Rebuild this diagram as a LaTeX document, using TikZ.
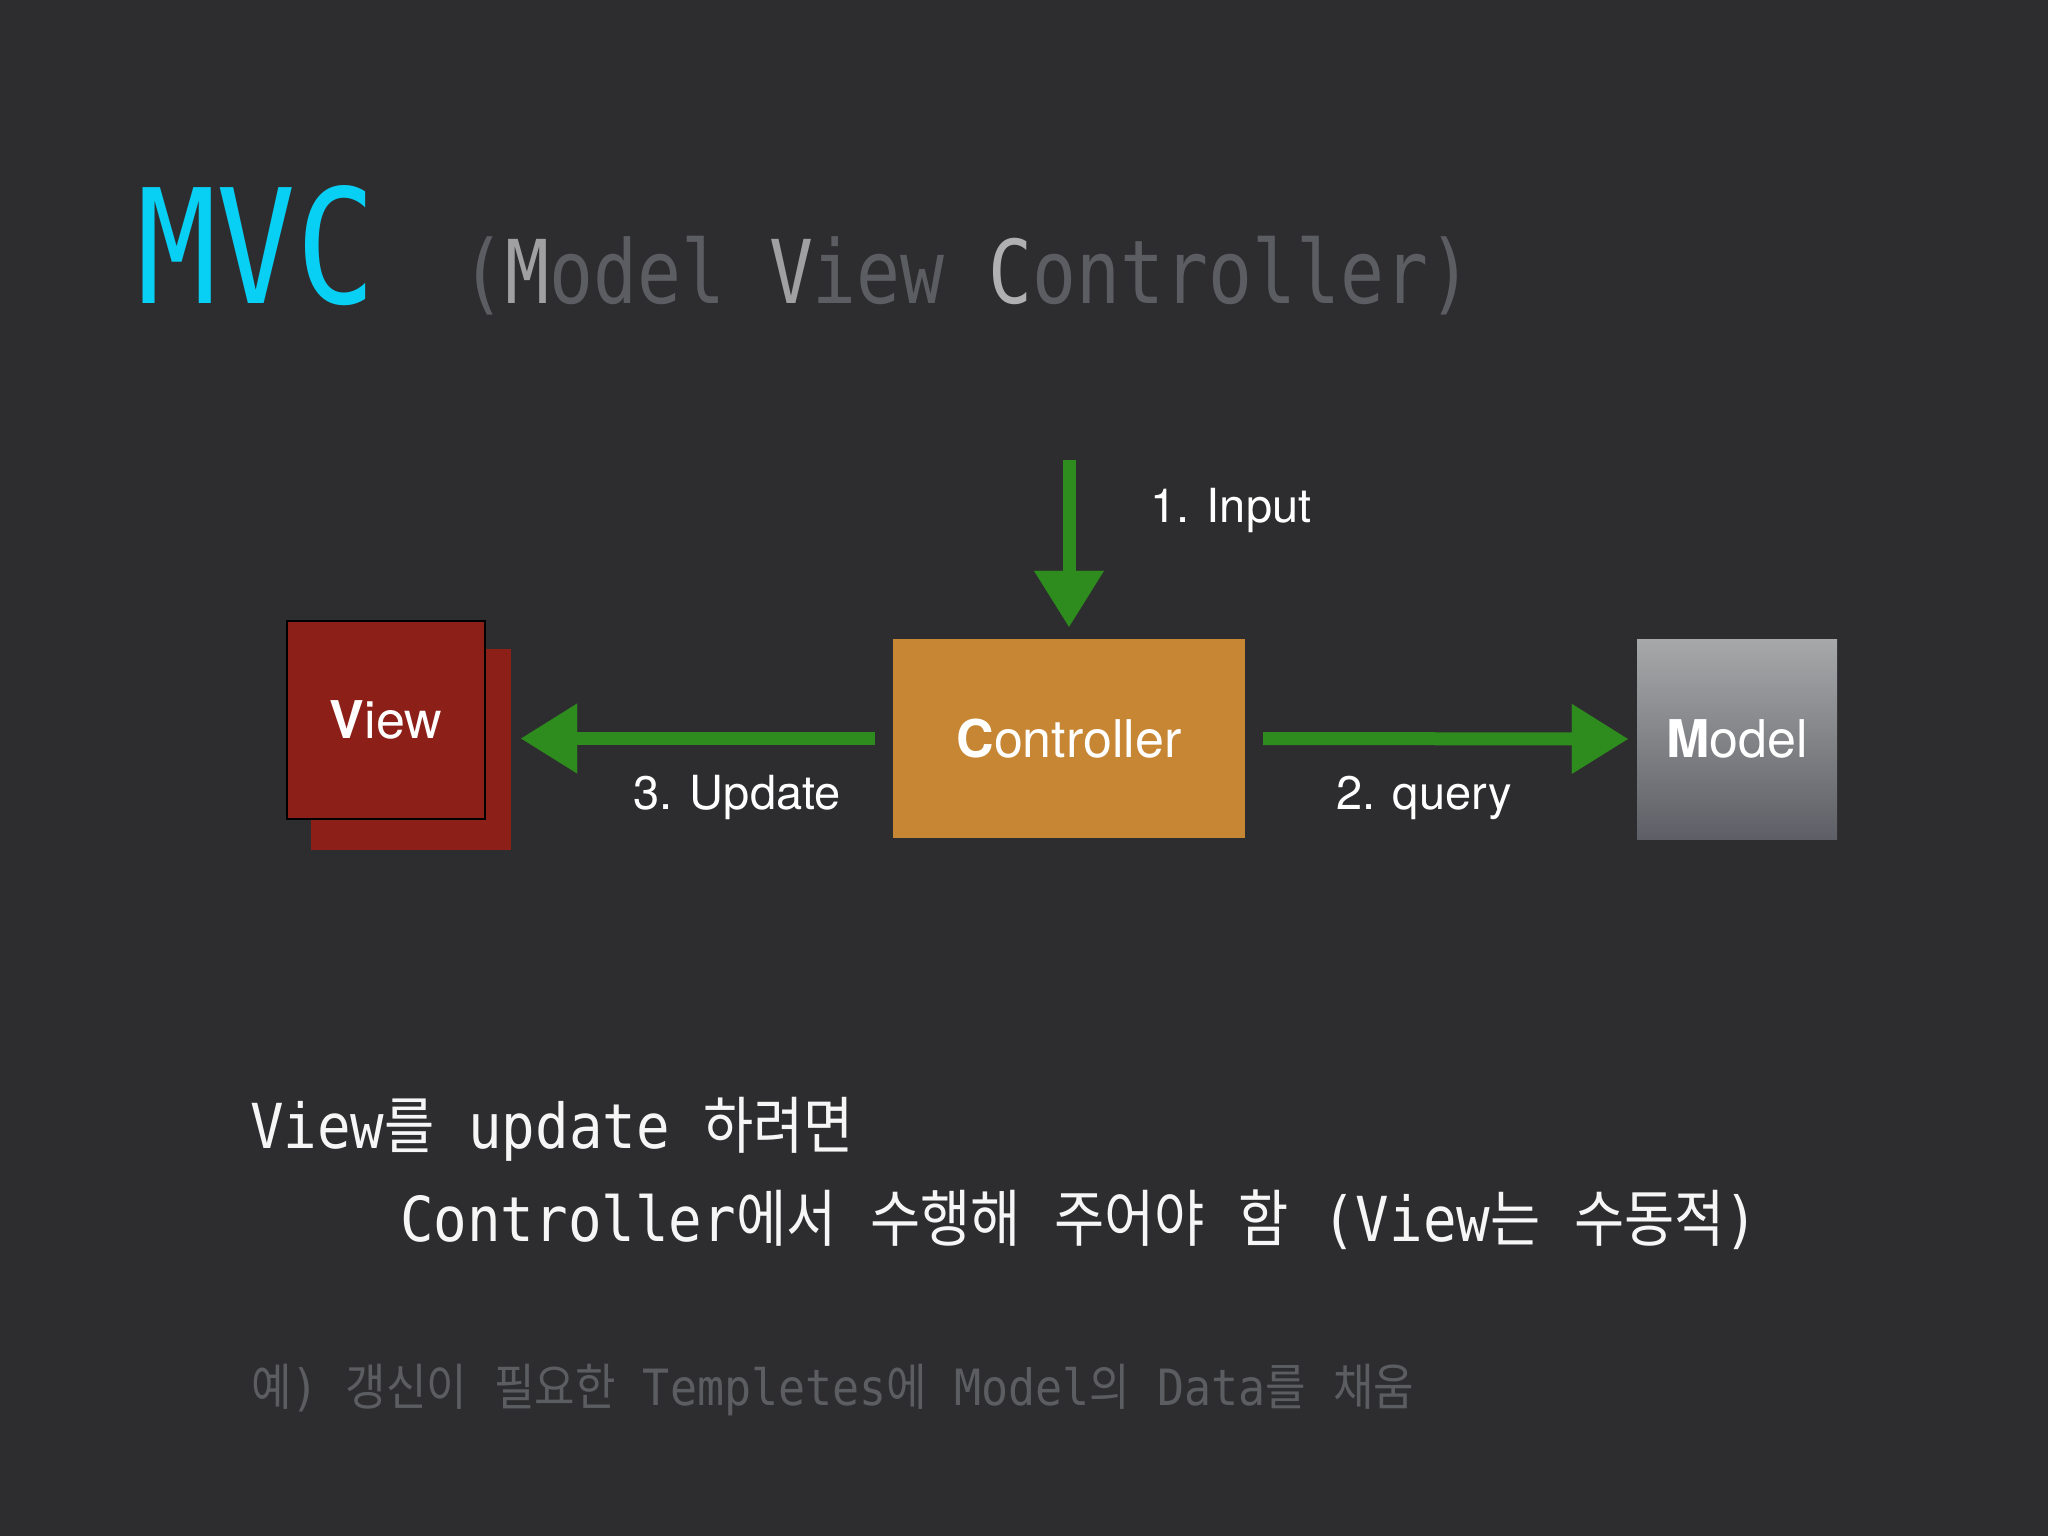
\documentclass[tikz,border=0pt]{standalone}
\usepackage{fontspec}
\usetikzlibrary{arrows.meta,calc}
\newfontfamily\monof[FakeStretch=0.83]{DejaVu Sans Mono}
\newfontfamily\monob[FakeStretch=0.90]{DejaVu Sans Mono}
\newfontfamily\krf[FakeStretch=0.88]{Noto Sans CJK KR}
\newfontfamily\helv{TeX Gyre Heros}
\newcommand\KR[1]{{\krf #1}}
\definecolor{bgc}{RGB}{45,45,47}
\definecolor{mvccyan}{RGB}{8,208,245}
\definecolor{subdark}{RGB}{92,93,98}
\definecolor{sublight}{RGB}{160,160,162}
\definecolor{sublightest}{RGB}{176,176,178}
\definecolor{viewred}{RGB}{140,32,24}
\definecolor{ctrlorange}{RGB}{198,134,52}
\definecolor{modeltop}{RGB}{166,168,169}
\definecolor{modelbot}{RGB}{94,95,102}
\definecolor{agreen}{RGB}{46,140,30}
\definecolor{notegray}{RGB}{92,93,97}
\definecolor{txtwhite}{RGB}{246,246,246}
\begin{document}
\begin{tikzpicture}[x=1pt,y=-1pt,
  boxlabel/.style={text=white,font=\helv\fontsize{52}{60}\selectfont},
  steplabel/.style={anchor=base west,inner sep=0,text=white,font=\helv\fontsize{47}{56}\selectfont},
  noteline/.style={anchor=base west,inner sep=0,text=txtwhite,font=\monob\fontsize{62}{70}\selectfont},
  garrow/.style={draw=agreen,line width=13pt,-{Triangle[length=56pt,width=70pt,line width=0.1pt]}}]
\fill[bgc] (0,0) rectangle (2048,1536);
\useasboundingbox (0,0) rectangle (2048,1536);

% title
\node[anchor=base west,inner sep=0,text=mvccyan,font=\monof\fontsize{159}{170}\selectfont] (title) at (137,303) {MVC};
\node[anchor=base west,inner sep=0,text=subdark,font=\monof\fontsize{88}{100}\selectfont] (subtitle) at (461,303)
  {(\textcolor{sublight}{M}odel \textcolor{sublight}{V}iew \textcolor{sublightest}{C}ontroller)};

% boxes
\node[fill=viewred,minimum width=200pt,minimum height=201pt,inner sep=0] (viewback) at (411,749.5) {};
\node[fill=viewred,draw=black,line width=2.5pt,minimum width=198pt,minimum height=198pt,inner sep=0,boxlabel] (view) at (386,720) {\textbf{V}iew};
\node[fill=ctrlorange,minimum width=352pt,minimum height=199pt,inner sep=0,boxlabel] (ctrl) at (1069,738.5) {\textbf{C}ontroller};
\node[top color=modeltop,bottom color=modelbot,minimum width=200pt,minimum height=200pt,inner sep=0,boxlabel] (model) at (1737,739) {\textbf{M}odel};

% arrows
\coordinate (inTop) at (1069,460);
\draw[garrow,shorten >=12pt] (inTop) -- (ctrl.north);
\draw[garrow,shorten <=18pt,shorten >=9pt] (ctrl.east) -- (model.west);
\draw[garrow,shorten <=18pt,shorten >=10pt] (ctrl.west) -- (ctrl.west -| viewback.east);

% step labels
\node[steplabel] (l1) at (1150,522) {1. Input};
\node[steplabel] (l2) at (1336,809) {2. query};
\node[steplabel] (l3) at (633,809) {3. Update};

% notes
\node[noteline] (n1) at (250,1148) {View\KR{를} update \KR{하려면}};
\node[noteline] (n2) at (400,1241) {Controller\KR{에서} \KR{수행해} \KR{주어야} \KR{함} (View\KR{는} \KR{수동적})};
\node[noteline,text=notegray,font=\monob\fontsize{50}{58}\selectfont] (n3) at (251,1405)
  {\KR{예}) \KR{갱신이} \KR{필요한} Templetes\KR{에} Model\KR{의} Data\KR{를} \KR{채움}};
\end{tikzpicture}
\end{document}
